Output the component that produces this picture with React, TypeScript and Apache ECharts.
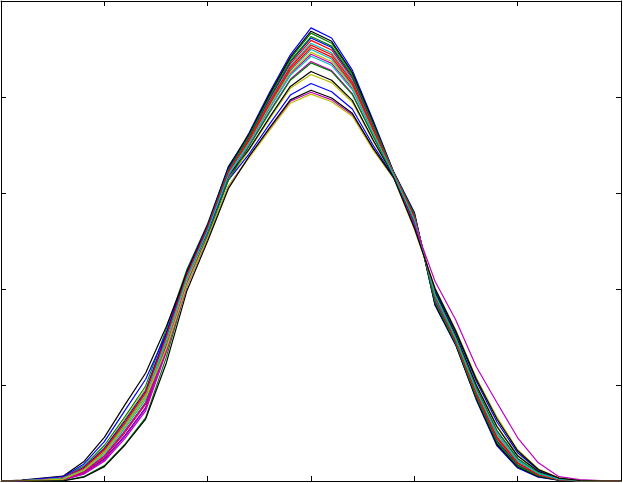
import React, { useEffect, useRef } from "react";
import * as echarts from "echarts";

const xValues = [0, 1, 2, 3, 4, 5, 6, 7, 8, 9, 10, 11, 12, 13, 14, 15, 16, 17, 18, 19, 20, 21, 22, 23, 24, 25, 26, 27, 28, 29, 30];

const b1 = [0, 0.04, 0.18, 0.4, 1.7, 4.6, 9.5, 15.3, 28.6, 42.9, 52.9, 65.1, 72.5, 81.0, 88.8, 94.4, 92.3, 85.6, 75.2, 64.4, 56.0, 36.6, 28.3, 16.9, 7.3, 2.7, 0.8, 0.2, 0, 0, 0];
const g1 = [0, 0.1, 0.45, 0.8, 3.1, 7.4, 13.4, 19.8, 31.6, 44.1, 53.6, 65.5, 72.1, 80.4, 88.0, 93.3, 91.2, 84.8, 74.7, 64.3, 55.7, 37.1, 28.6, 17.3, 7.8, 3.0, 1.0, 0.2, 0, 0, 0];
const r1 = [0, 0.1, 0.3, 0.6, 2.3, 5.9, 11.3, 17.4, 29.6, 43.0, 52.8, 64.7, 71.5, 79.5, 86.9, 91.8, 89.8, 83.8, 74.0, 64.2, 55.3, 38.2, 28.9, 17.8, 8.4, 3.4, 1.2, 0.3, 0, 0, 0];
const c1 = [0, 0.1, 0.3, 0.6, 2.5, 6.2, 11.8, 17.9, 29.9, 43.1, 52.8, 64.6, 71.3, 79.2, 86.5, 91.2, 89.2, 83.4, 73.8, 64.1, 55.2, 38.3, 29.0, 18.0, 8.7, 3.6, 1.2, 0.3, 0, 0, 0];
const m1 = [0, 0.02, 0.1, 0.3, 1.5, 4.4, 9.3, 15.1, 27.5, 41.8, 51.8, 63.4, 70.4, 77.8, 84.8, 88.9, 87.0, 81.8, 72.7, 63.9, 54.6, 38.7, 29.6, 18.7, 9.7, 4.2, 1.5, 0.4, 0, 0, 0];
const y1 = [0, 0.1, 0.4, 0.7, 2.9, 7.0, 12.9, 19.2, 30.5, 43.1, 52.7, 64.2, 70.6, 78.1, 85.1, 89.3, 87.4, 82.1, 72.9, 63.9, 54.7, 38.6, 29.5, 18.6, 9.5, 4.1, 1.5, 0.4, 0, 0, 0];
const k1 = [0, 0.1, 0.4, 0.7, 2.6, 6.4, 12.1, 18.3, 30.6, 43.7, 53.4, 65.4, 72.2, 80.6, 88.3, 93.7, 91.6, 85.1, 74.9, 64.3, 55.8, 36.8, 28.5, 17.1, 7.6, 2.9, 0.9, 0.2, 0, 0, 0];
const b2 = [0, 0.1, 0.4, 0.7, 2.8, 6.8, 12.6, 18.8, 30.8, 43.6, 53.2, 65.1, 71.7, 79.8, 87.3, 92.3, 90.3, 84.2, 74.3, 64.2, 55.5, 37.5, 28.8, 17.6, 8.2, 3.3, 1.1, 0.3, 0, 0, 0];
const g2 = [0, 0.1, 0.2, 0.5, 2.0, 5.2, 10.4, 16.4, 29.0, 42.9, 52.8, 64.7, 71.8, 80.0, 87.5, 92.6, 90.6, 84.4, 74.4, 64.2, 55.5, 37.3, 28.7, 17.5, 8.1, 3.2, 1.1, 0.3, 0, 0, 0];
const r2 = [0, 0.05, 0.2, 0.4, 1.8, 4.9, 10.1, 16.0, 28.4, 42.4, 52.4, 64.2, 71.2, 79.0, 86.2, 90.8, 88.8, 83.1, 73.6, 64.1, 55.1, 38.4, 29.1, 18.1, 8.9, 3.7, 1.3, 0.3, 0, 0, 0];
const c2 = [0, 0.1, 0.25, 0.5, 2.2, 5.6, 11.0, 17.0, 29.0, 42.5, 52.4, 64.0, 70.8, 78.4, 85.5, 89.9, 87.9, 82.4, 73.2, 64.0, 54.8, 38.5, 29.4, 18.4, 9.3, 4.0, 1.4, 0.3, 0, 0, 0];
const m2 = [0, 0.01, 0.1, 0.2, 1.4, 4.1, 8.9, 14.6, 26.9, 41.3, 51.4, 62.9, 69.9, 77.0, 83.7, 87.4, 85.5, 80.7, 72.0, 63.7, 54.2, 39.0, 29.9, 19.3, 10.4, 4.6, 1.7, 0.4, 0.05, 0, 0];
const y2 = [0, 0.1, 0.3, 0.6, 2.5, 6.3, 12.1, 18.1, 29.0, 41.9, 51.7, 62.8, 68.9, 75.5, 81.8, 84.7, 83.0, 78.9, 70.9, 63.5, 53.6, 39.5, 30.5, 20.1, 11.5, 5.4, 2.0, 0.5, 0.1, 0, 0];
const k2 = [0, 0.2, 0.6, 1.0, 4.0, 9.1, 15.9, 22.5, 32.2, 43.4, 52.7, 63.6, 69.1, 75.8, 82.2, 85.3, 83.5, 79.3, 71.1, 63.5, 53.7, 39.4, 30.4, 19.9, 11.3, 5.2, 2.0, 0.5, 0.1, 0, 0];
const b3 = [0, 0.1, 0.5, 0.9, 3.5, 8.2, 14.7, 21.2, 30.8, 42.5, 51.9, 62.7, 68.1, 74.4, 80.4, 82.8, 81.1, 77.5, 70.0, 63.3, 53.1, 39.8, 31.0, 20.8, 12.3, 5.9, 2.3, 0.5, 0.1, 0, 0];
const g3 = [0, 0, 0, 0.1, 0.9, 3.2, 7.7, 13.2, 25.8, 40.8, 51.1, 62.6, 69.7, 76.8, 83.5, 87.1, 85.3, 80.5, 71.9, 63.7, 54.1, 39.0, 30.0, 19.3, 10.5, 4.7, 1.7, 0.4, 0.05, 0, 0];
const r3 = [0, 0.1, 0.3, 0.7, 2.6, 6.5, 12.2, 18.4, 30.1, 43.0, 52.8, 64.4, 70.9, 78.6, 85.8, 90.3, 88.3, 82.7, 73.3, 64.0, 55.0, 38.5, 29.3, 18.3, 9.1, 3.8, 1.3, 0.3, 0, 0, 0];
const c3 = [0, 0.1, 0.3, 0.6, 2.3, 5.9, 11.5, 17.5, 29.1, 42.4, 52.2, 63.7, 70.3, 77.6, 84.5, 88.5, 86.6, 81.5, 72.5, 63.8, 54.5, 38.8, 29.7, 18.9, 9.9, 4.3, 1.6, 0.4, 0, 0, 0];
const m3 = [0, 0, 0.2, 0.4, 1.9, 5.2, 10.5, 16.3, 27.0, 40.6, 50.6, 61.4, 67.5, 73.3, 79.1, 81.0, 79.4, 76.3, 69.2, 63.1, 53.5, 41.6, 33.6, 23.8, 16.3, 9.0, 3.8, 0.9, 0.3, 0.1, 0];
const y3 = [0, 0.05, 0.2, 0.4, 2.2, 5.8, 11.4, 17.3, 27.6, 40.8, 50.7, 61.4, 67.3, 73.1, 78.7, 80.6, 79.0, 76.0, 69.0, 63.1, 52.5, 40.2, 31.5, 21.5, 13.3, 6.5, 2.5, 0.6, 0.1, 0, 0];
const k3 = [0, 0, 0, 0, 0.8, 3.0, 7.5, 12.9, 24.6, 39.7, 50.0, 60.9, 67.6, 73.6, 79.4, 81.4, 79.8, 76.6, 69.4, 63.2, 52.7, 40.1, 31.3, 21.2, 12.9, 6.3, 2.4, 0.6, 0.1, 0, 0];

const colorCycle = ["#0000ff", "#008000", "#ff0000", "#00bfbf", "#bf00bf", "#bfbf00", "#000000"];
const seriesValues = [b1, g1, r1, c1, m1, y1, k1, b2, g2, r2, c2, m2, y2, k2, b3, g3, r3, c3, m3, y3, k3];

const X_MIN = 0;
const X_MAX = 30;
const X_STEP = 5;
const Y_MIN = 0;
const Y_MAX = 100;
const Y_STEP = 20;

function axisCommon(position: string) {
  return {
    position,
    axisLine: { show: true, onZero: false, lineStyle: { color: "#000", width: 1 } },
    axisTick: { show: true, inside: true, length: 5, lineStyle: { color: "#000", width: 1 } },
    axisLabel: { show: false },
    splitLine: { show: false },
  };
}

export default function App() {
  const ref = useRef<HTMLDivElement>(null);
  useEffect(() => {
    if (!ref.current) return;
    const chart = echarts.init(ref.current, null, { renderer: "svg" });
    const series = seriesValues.map((vals, idx) => ({
      type: "line",
      data: xValues.map((x, i) => [x, vals[i]]),
      showSymbol: false,
      symbol: "none",
      silent: true,
      lineStyle: { color: colorCycle[idx % 7], width: 1.2 },
      itemStyle: { color: colorCycle[idx % 7] },
    }));
    chart.setOption({
      animation: false,
      backgroundColor: "#ffffff",
      grid: { left: 1, right: 2, top: 1, bottom: 2, containLabel: false, show: false },
      xAxis: [
        { type: "value", min: X_MIN, max: X_MAX, interval: X_STEP, ...axisCommon("bottom") },
        { type: "value", min: X_MIN, max: X_MAX, interval: X_STEP, ...axisCommon("top") },
      ],
      yAxis: [
        { type: "value", min: Y_MIN, max: Y_MAX, interval: Y_STEP, ...axisCommon("left") },
        { type: "value", min: Y_MIN, max: Y_MAX, interval: Y_STEP, ...axisCommon("right") },
      ],
      series,
    });
    return () => chart.dispose();
  }, []);
  return (
    <div
      ref={ref}
      style={{ position: "fixed", left: 0, top: 0, width: 623, height: 483, background: "#fff" }}
    />
  );
}
